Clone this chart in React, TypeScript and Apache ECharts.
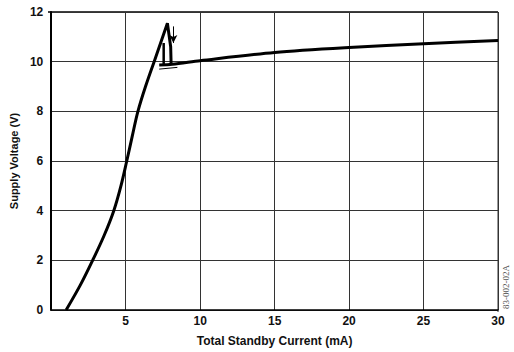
import React, { useEffect, useRef } from "react";
import * as echarts from "echarts";

const riseCurve: [number, number][] = [
  [1.0, 0], [1.95, 1], [2.78, 2], [3.55, 3], [4.2, 4], [4.68, 5], [5.07, 6], [5.44, 7], [5.82, 8], [6.33, 9], [6.91, 10],
];
const peakSegment: [number, number][] = [
  [6.91, 10], [7.8, 11.55], [8.02, 10.6], [8.05, 9.88],
];
const innerVertical: [number, number][] = [
  [7.55, 10.75], [7.55, 9.88],
];
const plateauCurve: [number, number][] = [
  [7.25, 9.87], [8.13, 9.9], [10, 10.04], [15, 10.37], [20, 10.57], [25, 10.72], [30, 10.85],
];
const thinUnderline: [number, number][] = [
  [7.25, 9.7], [8.47, 9.77],
];
const arrowFrom: [number, number] = [8.2, 11.42];
const arrowTo: [number, number] = [8.2, 10.75];

const xTicks = [0, 5, 10, 15, 20, 25, 30];
const yTicks = [0, 2, 4, 6, 8, 10, 12];

export default function App() {
  const ref = useRef<HTMLDivElement>(null);
  useEffect(() => {
    if (!ref.current) return;
    const chart = echarts.init(ref.current, undefined, { renderer: "svg" });
    const font = "'Liberation Sans', Arial, sans-serif";
    const lineBase = {
      type: "line" as const,
      showSymbol: false,
      symbol: "none",
      lineStyle: { color: "#000", width: 3 },
      silent: true,
    };
    chart.setOption({
      animation: false,
      backgroundColor: "#fff",
      grid: { left: 48, right: 16, top: 12, bottom: 40, show: false },
      xAxis: {
        type: "value",
        min: xTicks[0],
        max: xTicks[xTicks.length - 1],
        interval: 5,
        name: "Total Standby Current (mA)",
        nameLocation: "middle",
        nameGap: 25,
        nameTextStyle: { fontFamily: font, fontWeight: "bold", fontSize: 12, color: "#111" },
        axisLine: { lineStyle: { color: "#000", width: 1.5 } },
        axisTick: { show: false },
        axisLabel: {
          fontFamily: font, fontWeight: "bold", fontSize: 12, color: "#111", margin: 5,
          formatter: (v: number) => (v === 0 ? "" : String(v)),
        },
        splitLine: { show: true, lineStyle: { color: "#333", width: 1 } },
      },
      yAxis: {
        type: "value",
        min: yTicks[0],
        max: yTicks[yTicks.length - 1],
        interval: 2,
        name: "Supply Voltage (V)",
        nameLocation: "middle",
        nameGap: 32,
        nameRotate: 90,
        nameTextStyle: { fontFamily: font, fontWeight: "bold", fontSize: 11, color: "#111" },
        axisLine: { show: true, lineStyle: { color: "#000", width: 2 } },
        axisTick: { show: false },
        axisLabel: { fontFamily: font, fontWeight: "bold", fontSize: 12, color: "#111", margin: 8 },
        splitLine: { show: true, lineStyle: { color: "#333", width: 1 } },
      },
      graphic: [
        {
          type: "line",
          shape: { x1: 48, y1: 12, x2: 498, y2: 12 },
          style: { stroke: "#000", lineWidth: 1.5 },
        },
        {
          type: "line",
          shape: { x1: 498, y1: 12, x2: 498, y2: 312 },
          style: { stroke: "#333", lineWidth: 1 },
        },
        {
          type: "text",
          x: 506,
          y: 287,
          rotation: Math.PI / 2,
          style: {
            text: "83-002-02A",
            fill: "#555",
            font: "9px 'Liberation Serif', serif",
            align: "center",
            verticalAlign: "middle",
          },
        },
      ],
      series: [
        { ...lineBase, data: riseCurve, smooth: 0.35 },
        { ...lineBase, data: peakSegment },
        { ...lineBase, data: innerVertical, lineStyle: { color: "#000", width: 2.5 } },
        { ...lineBase, data: plateauCurve, smooth: 0.3 },
        { ...lineBase, data: thinUnderline, lineStyle: { color: "#000", width: 1 } },
        {
          type: "line",
          data: [],
          silent: true,
          markLine: {
            silent: true,
            symbol: ["none", "arrow"],
            symbolSize: [6, 8],
            label: { show: false },
            lineStyle: { color: "#000", width: 1, type: "solid" },
            data: [[{ coord: arrowFrom }, { coord: arrowTo }]],
          },
        },
      ],
    });
    return () => chart.dispose();
  }, []);
  return (
    <div
      ref={ref}
      style={{ position: "absolute", left: 0, top: 0, width: 514, height: 352 }}
    />
  );
}
